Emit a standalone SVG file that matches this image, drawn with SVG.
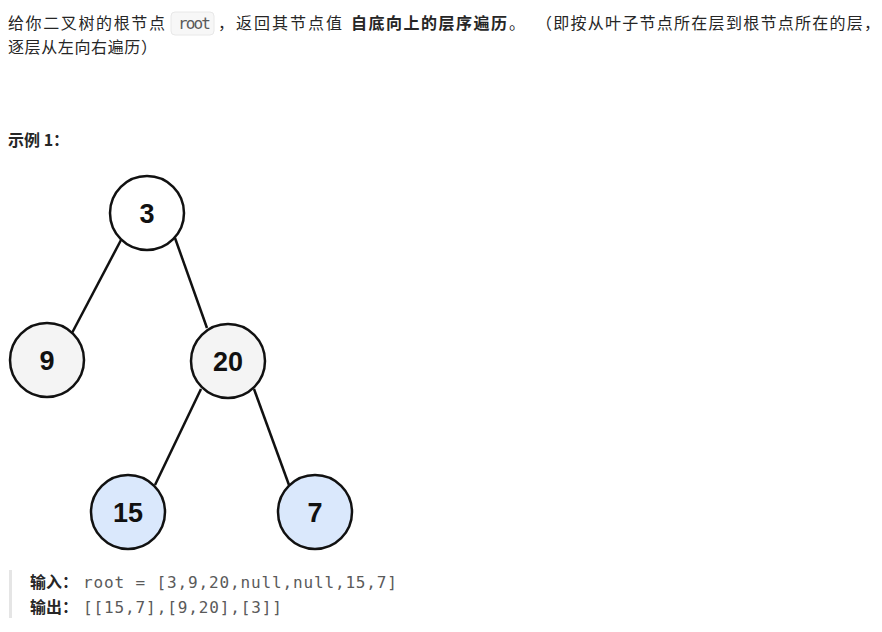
<svg xmlns="http://www.w3.org/2000/svg" width="882" height="632" viewBox="0 0 882 632">
<style>
.t{font-family:"Noto Sans CJK SC","Liberation Sans",sans-serif;font-size:16px;fill:#262626}
.b{font-weight:bold}
.m{font-family:"DejaVu Sans Mono","Liberation Mono",monospace;font-size:16px;fill:#5a5a5a}
.n circle{stroke:#111;stroke-width:2.5}
.n text{font-family:"Liberation Sans",Arial,sans-serif;font-size:27px;font-weight:bold;fill:#111;text-anchor:middle}
.e line{stroke:#111;stroke-width:2.5}
</style>
<rect width="882" height="632" fill="#fff"/>
<text class="t" x="8" y="29" textLength="157" lengthAdjust="spacing">给你二叉树的根节点</text>
<rect x="171" y="12" width="43" height="23" rx="4" fill="#f7f7f7" stroke="#e8e8e8"/>
<text class="m" x="178" y="29" font-size="14" textLength="33" lengthAdjust="spacing">root</text>
<text class="t" x="218" y="29" textLength="124" lengthAdjust="spacing">，返回其节点值</text>
<text class="t b" x="351" y="29" textLength="156" lengthAdjust="spacing">自底向上的层序遍历</text>
<text class="t" x="509" y="29">。</text>
<text class="t" x="536" y="29" textLength="344" lengthAdjust="spacing">（即按从叶子节点所在层到根节点所在的层，</text>
<text class="t" x="8" y="53" textLength="149" lengthAdjust="spacing">逐层从左向右遍历）</text>
<text class="t b" x="8" y="146">示例 1：</text>
<g class="e" id="edges">
<line x1="121" y1="240" x2="72" y2="333"/>
<line x1="175" y1="238" x2="207" y2="328"/>
<line x1="201" y1="389" x2="155" y2="485"/>
<line x1="254" y1="389" x2="289" y2="485"/>
</g>
<g class="n" id="n3"><circle cx="147" cy="213" r="37" fill="#fff"/><text x="147" y="223">3</text></g>
<g class="n" id="n9"><circle cx="47" cy="360" r="37" fill="#f4f4f4"/><text x="47" y="370">9</text></g>
<g class="n" id="n20"><circle cx="228" cy="361" r="37" fill="#f4f4f4"/><text x="228" y="371">20</text></g>
<g class="n" id="n15"><circle cx="128" cy="512" r="37" fill="#dae8fc"/><text x="128" y="522">15</text></g>
<g class="n" id="n7"><circle cx="315" cy="512" r="37" fill="#dae8fc"/><text x="315" y="522">7</text></g>
<rect x="9" y="570" width="3" height="48" fill="#e5e5e5"/>
<text class="t b" x="30" y="588">输入：</text>
<text class="m" x="83" y="588" textLength="314" lengthAdjust="spacing">root = [3,9,20,null,null,15,7]</text>
<text class="t b" x="30" y="613">输出：</text>
<text class="m" x="83" y="613" textLength="199" lengthAdjust="spacing">[[15,7],[9,20],[3]]</text>
</svg>
